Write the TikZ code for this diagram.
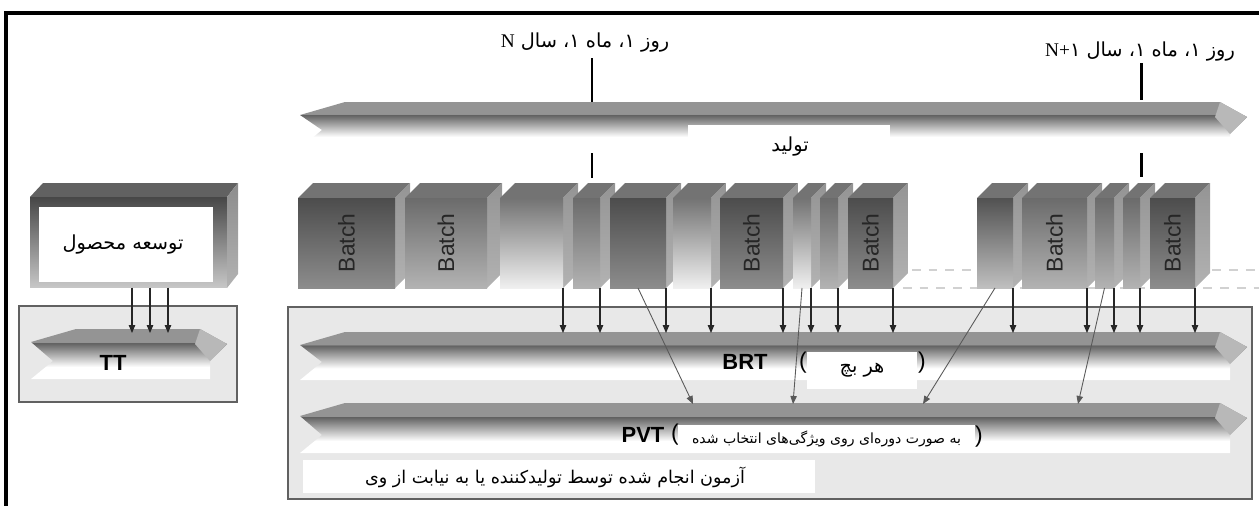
\documentclass[tikz,border=0pt]{standalone}
\usepackage{fontspec}
\setmainfont{Liberation Serif}
\setsansfont{Liberation Sans}
\newfontfamily\fatext[Script=Arabic]{DejaVu Sans}
\TeXXeTstate=1
\usetikzlibrary{arrows.meta}
\newcommand{\fa}[1]{{\fatext\beginR #1\endR}}

\pgfdeclareverticalshading{ribbonshade}{100bp}{%
  color(0bp)=(white); color(37bp)=(white); color(61bp)=(black!62);
  color(62bp)=(black!42); color(100bp)=(black!42)}

\newcommand{\ribbon}[4]{%
  \shade[shading=ribbonshade]
    ({#1+45},#3) -- ({#2-27},#3) -- (#2,{#3+15}) -- ({#2-17},{#3+32})
    -- ({#2-17},{#3+#4}) -- (#1,{#3+#4}) -- ({#1+22},{#3+#4-18})
    -- (#1,{#3+13}) -- cycle;
  \fill[black!28] ({#2-27},#3) -- (#2,{#3+15}) -- ({#2-17},{#3+32})
    -- ({#2-32},{#3+15}) -- cycle;
}

\newcommand{\batchcube}[5]{%
  \fill[cubetop] (#2,198) -- (#3,198) -- ({#3+15},183) -- ({#2+15},183) -- cycle;
  \shade[cubeside] (#3,198) -- ({#3+15},183) -- ({#3+15},273) -- (#3,288) -- cycle;
  \node[cubefront,#4,minimum width={(#3-#2)*0.02cm}] (#1) at ({(#2+#3)/2},243) {};
  \node[batchtxt] at (#1) {#5};
}

\begin{document}
\begin{tikzpicture}[
  x=0.02cm,
  y=-0.02cm,
  frame/.style={
    line width=2pt,
    black
  },
  tick/.style={
    line width=1.7pt,
    black
  },
  panel/.style={
    draw=black!62,
    fill=black!9,
    line width=0.9pt
  },
  whitebox/.style={
    fill=white,
    inner sep=0pt
  },
  cubetop/.style={
    fill=black!55
  },
  cubeside/.style={
    top color=black!42,
    bottom color=black!30
  },
  cubefront/.style={
    minimum height=1.8cm,
    inner sep=0pt,
    outer sep=0pt
  },
  dark/.style={
    top color=black!70,
    bottom color=black!45
  },
  mid/.style={
    top color=black!58,
    bottom color=black!30
  },
  fade/.style={
    top color=black!68,
    bottom color=black!25
  },
  light/.style={
    top color=black!55,
    bottom color=black!6
  },
  batchtxt/.style={
    rotate=90,
    font=\sffamily\fontsize{13}{13}\selectfont,
    text=black!85
  },
  bartxt/.style={
    font=\sffamily\bfseries\fontsize{12.5}{13}\selectfont
  },
  paren/.style={
    font=\sffamily\fontsize{13}{13}\selectfont
  },
  datetxt/.style={
    font=\fontsize{11}{13}\selectfont
  },
  fatxt/.style={
    font=\fontsize{11}{13}\selectfont
  },
  dashline/.style={
    draw=black!18,
    line width=1.5pt,
    dash pattern=on 5pt off 4.5pt
  },
  arr/.style={
    -{Triangle[length=1.6mm,width=1.3mm]},
    black!85,
    line width=0.6pt
  },
  darr/.style={
    -{Triangle[length=1.6mm,width=1.3mm]},
    black!65,
    line width=0.5pt
  }
]

\useasboundingbox (0,0) rectangle (1259,505);

\draw[frame] (1262,13) -- (6,13) -- (6,508);

\node[datetxt] (dayN) at (585,43) {\fa{روز ۱، ماه ۱، سال {\rmfamily N}}};
\node[datetxt] (dayNext) at (1140,52) {\fa{روز ۱، ماه ۱، سال \beginL{\rmfamily N+}۱\endL}};

\ribbon{300}{1247}{102}{46}

\coordinate (t1) at (592,58);
\coordinate (t2) at (1141,63);
\draw[tick] (t1) -- (592,102);
\draw[tick] (592,153) -- (592,178);
\draw[tick] (t2) -- (1141,100);
\draw[tick] (1141,153) -- (1141,177);

\node[whitebox, minimum width=4.04cm, minimum height=0.88cm] (prod) at (789,147) {};
\node[fatxt] (prodtxt) at (790,147) {\fa{تولید}};

\draw[dashline] (912,270) -- (1262,270);
\draw[dashline] (903,288) -- (1262,288);

% product development
\fill[black!62] (30,197) -- (227,197) -- (238,183) -- (43,183) -- cycle;
\shade[top color=black!45, bottom color=black!30] (227,197) -- (238,183) -- (238,274) -- (227,288) -- cycle;
\node[cubefront, minimum width=3.94cm, top color=black!72, bottom color=black!22] (devbox) at (128.5,242.5) {};
\node[whitebox, minimum width=3.48cm, minimum height=1.5cm] (dev) at (126,244.5) {};
\node[fatxt] (devtxt) at (123,245) {\fa{توسعه محصول}};

% batches
\batchcube{b1}{298}{395}{dark}{Batch}
\batchcube{b2}{405}{487}{mid}{Batch}
\batchcube{b3}{500}{563}{light}{}
\batchcube{b4}{573}{600}{mid}{}
\batchcube{b5}{610}{666}{dark}{}
\batchcube{b6}{673}{711}{light}{}
\batchcube{b7}{720}{783}{dark}{Batch}
\batchcube{b8}{793}{811}{light}{}
\batchcube{b9}{820}{838}{mid}{}
\batchcube{b10}{848}{893}{dark}{Batch}
\batchcube{b11}{977}{1013}{fade}{}
\batchcube{b12}{1022}{1087}{mid}{Batch}
\batchcube{b13}{1095}{1114}{mid}{}
\batchcube{b14}{1123}{1140}{mid}{}
\batchcube{b15}{1150}{1195}{dark}{Batch}

\draw[panel] (19,306) rectangle (237,402);
\draw[panel] (288,307) rectangle (1252,499);

\ribbon{31}{227}{329}{50}
\ribbon{300}{1247}{332}{48}
\ribbon{300}{1247}{403}{50}

\coordinate (tttop) at (0,333);
\coordinate (brttop) at (0,333);
\coordinate (pv1) at (693,404);
\coordinate (pv2) at (793,404);
\coordinate (pv3) at (923,404);
\coordinate (pv4) at (1078,404);

\foreach \dx in {132,150,168}
  \draw[arr] ([xshift=(\dx-128.5)*0.02cm]devbox.south) -- ([xshift=(\dx-128.5)*0.02cm]devbox.south |- tttop);

\foreach \b in {b3,b4,b5,b6,b7,b8,b9,b10,b11,b12,b13,b14,b15}
  \draw[arr] (\b.south east) -- (\b.south east |- brttop);

\draw[darr] (b5.south) -- (pv1);
\draw[darr] (b8.south) -- (pv2);
\draw[darr] (b11.south) -- (pv3);
\draw[darr] (b13.south) -- (pv4);

\node[bartxt] (tt) at (113,363) {TT};
\node[bartxt] (brt) at (745,362) {BRT};
\node[paren] (brtl) at (803,363) {(};
\node[whitebox, minimum width=2.2cm, minimum height=0.74cm] (brtnote) at (862,370.5) {\fatext\fontsize{11}{13}\selectfont\beginR هر بچ\endR};
\node[paren] (brtr) at (922,363) {)};

\node[bartxt] (pvt) at (643,435) {PVT};
\node[paren] (pvtl) at (675,435) {(};
\node[whitebox, minimum width=5.94cm, minimum height=0.56cm] (pvtnote) at (826.5,439) {\fatext\fontsize{8}{10}\selectfont\beginR به صورت دوره^^^^200cای روی ویژگی^^^^200cهای انتخاب شده\endR};
\node[paren] (pvtr) at (979,437) {)};

\node[whitebox, minimum width=10.24cm, minimum height=0.66cm] (testby) at (559,476.5) {};
\node[fatxt, font=\fontsize{10}{12}\selectfont] (testbytxt) at (555,477) {\fa{آزمون انجام شده توسط تولیدکننده یا به نیابت از وی}};

\end{tikzpicture}
\end{document}
